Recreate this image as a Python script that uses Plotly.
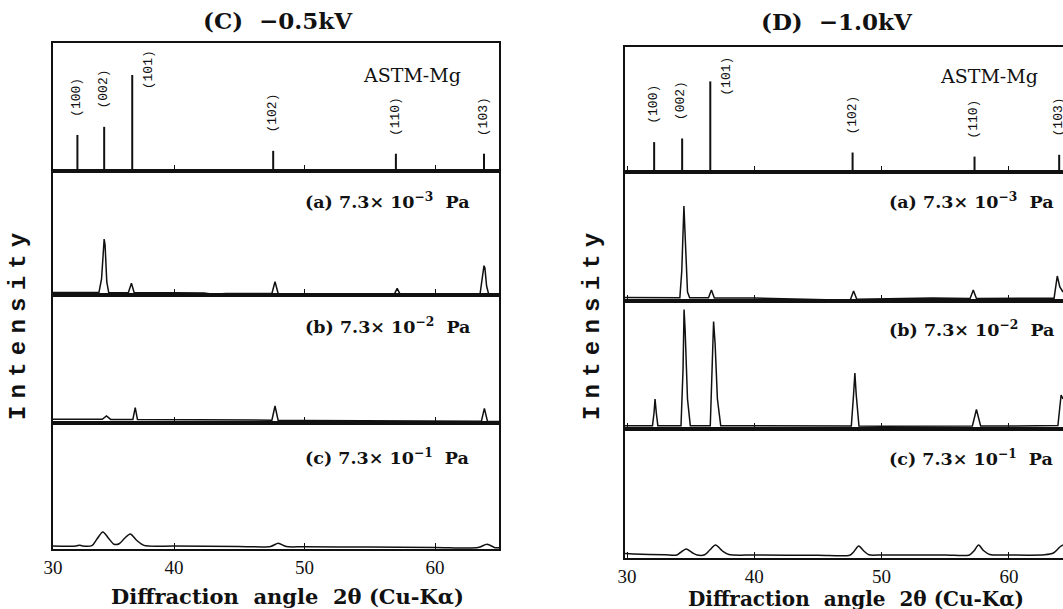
import plotly.graph_objects as go

W, H = 1063, 609

# ---------------- data ----------------
hkl = ["(100)", "(002)", "(101)", "(102)", "(110)", "(103)"]

astm_pos_C = [32.6, 34.65, 36.8, 47.6, 57.0, 63.75]
astm_int_C = [37.5, 46.0, 100.0, 21.0, 18.0, 18.0]
astm_pos_D = [32.13, 34.33, 36.54, 47.72, 57.3, 63.95]
astm_int_D = [33.0, 37.0, 100.0, 21.5, 17.0, 19.0]

panel_titles = ["(C)  \u22120.5kV", "(D)  \u22121.0kV"]
sample_labels = ["(a) 7.3\u00d7 10<sup>\u22123</sup>  Pa",
                 "(b) 7.3\u00d7 10<sup>\u22122</sup>  Pa",
                 "(c) 7.3\u00d7 10<sup>\u22121</sup>  Pa"]
astm_label = "ASTM-Mg"
x_title = "Diffraction  angle  2\u03b8 (Cu-K\u03b1)"
y_title = "Intensity"
x_tick_labels = ["30", "40", "50", "60"]
x_tick_vals = [30, 40, 50, 60]

C_a_x = [30.73, 33.5, 34.25, 34.45, 34.6, 34.65, 34.72, 34.85, 35.0, 36.5, 36.74, 36.95,
         40.0, 42.3, 43.0, 44.0, 47.5, 47.74, 47.98, 50.0, 56.9, 57.1, 57.3,
         63.45, 63.6, 63.75, 63.82, 63.95, 64.1, 64.9]
C_a_y = [2.6, 2.5, 2.5, 16, 52, 56, 50, 13, 2.4, 2.3, 11.7, 2.3,
         2.3, 2.0, 0.8, 1.6, 1.6, 13.3, 1.6, 1.6, 1.3, 6.7, 1.3,
         1.2, 14, 29.3, 27, 9, 1.2, 1.0]

C_b_x = [30.73, 34.5, 34.83, 35.15, 36.85, 37.03, 37.2, 40.0, 43.0, 47.5, 47.74, 47.98,
         50.0, 55.0, 60.0, 63.55, 63.78, 64.02, 64.9]
C_b_y = [3.8, 3.7, 7.0, 3.6, 3.5, 15.3, 3.5, 3.3, 2.8, 2.8, 17.0, 2.6,
         2.5, 2.2, 2.0, 1.8, 14.7, 1.6, 1.4]

C_c_x = [30.73, 32.5, 32.75, 33.0, 33.7, 34.1, 34.55, 35.0, 35.4, 35.8, 36.2, 36.65, 37.15,
         37.7, 40.0, 45.0, 47.4, 47.99, 48.6, 50.0, 55.0, 60.0, 63.3, 63.98, 64.6, 64.9]
C_c_y = [3.0, 3.0, 3.8, 3.0, 3.3, 10.0, 17.0, 10.5, 4.8, 5.2, 10.5, 15.0, 8.5,
         3.6, 3.0, 2.6, 2.5, 5.7, 2.4, 2.3, 1.9, 1.6, 1.4, 4.7, 1.3, 1.2]

D_a_x = [29.84, 33.0, 34.15, 34.3, 34.42, 34.47, 34.55, 34.75, 34.92, 36.4, 36.63, 36.86,
         40.0, 44.0, 45.5, 46.5, 47.55, 47.8, 48.05, 50.0, 54.0, 56.95, 57.2, 57.45,
         60.0, 63.55, 63.8, 64.0, 64.25]
D_a_y = [3.4, 3.3, 3.3, 30, 92, 95, 70, 9, 3.3, 3.2, 11, 3.1,
         3.0, 1.8, 0.6, 1.0, 1.5, 10, 1.8, 2.2, 3.0, 2.6, 11, 2.6,
         2.6, 2.8, 25, 14, 9]

D_b_x = [29.84, 32.0, 32.12, 32.2, 32.3, 32.42, 34.24, 34.4, 34.48, 34.56, 34.75, 34.97,
         36.54, 36.7, 36.8, 36.92, 37.1, 37.36, 40.0, 44.0, 47.62, 47.8, 47.9, 48.0, 48.22,
         50.0, 54.0, 57.13, 57.45, 57.78, 60.0, 63.85, 64.1, 64.25]
D_b_y = [3.3, 3.3, 16, 30, 16, 3.3, 3.3, 60, 119.5, 100, 30, 3.3,
         3.3, 60, 107.5, 85, 30, 3.3, 3.3, 3.0, 3.0, 35, 56, 35, 3.0,
         2.8, 3.0, 3.0, 19.5, 3.0, 3.0, 3.5, 34, 30]

D_c_x = [29.84, 30.5, 33.0, 33.9, 34.2, 34.64, 35.1, 35.5, 36.1, 36.5, 36.95, 37.5, 38.0,
         40.0, 45.0, 47.5, 47.8, 48.2, 48.6, 49.0, 50.0, 55.0, 56.9, 57.25, 57.62, 58.0,
         58.5, 60.0, 62.8, 63.5, 64.0, 64.25]
D_c_y = [4.5, 4.0, 3.2, 3.0, 5.5, 9.0, 5.5, 3.0, 3.2, 8.0, 13.0, 7.0, 3.5,
         3.0, 2.8, 2.8, 6.0, 12.0, 7.0, 3.2, 3.0, 3.0, 3.0, 7.0, 13.0, 7.5,
         3.5, 3.0, 3.2, 5.0, 11.0, 13.0]

# ---------------- layout geometry (pixels) ----------------
def pxp(px):
    return px / W

def pyp(py):
    return 1 - py / H

def spaced(word, gap_px):
    # letter-spaced text: small-sized spaces between the letters
    sp = '<span style="font-size:%dpx"> </span>' % gap_px
    return sp.join(word)

panels = [
    dict(xdom=[53, 499], rows=[43, 171, 295, 423, 549], xr=[30.73, 64.9], astm_scale=0.96,
         pos=astm_pos_C, inten=astm_int_C, spectra=[(C_a_x, C_a_y, "linear"), (C_b_x, C_b_y, "linear"),
                                                     (C_c_x, C_c_y, "spline")],
         title=panel_titles[0], title_x=278, title_y=21, ytitle_x=18, xtitle_x=287,
         mirror_right=True, lab_x=49.9, astm_x=54.3, astm_y=75, lab_y=[200, 325, 456],
         xtitle_y=596, xtitle_size=21),
    dict(xdom=[625, 1063], rows=[47, 172, 301, 429, 558], xr=[29.84, 64.25], astm_scale=0.906,
         pos=astm_pos_D, inten=astm_int_D, spectra=[(D_a_x, D_a_y, "linear"), (D_b_x, D_b_y, "linear"),
                                                     (D_c_x, D_c_y, "spline")],
         title=panel_titles[1], title_x=837, title_y=22, ytitle_x=592, xtitle_x=856,
         mirror_right=False, lab_x=50.4, astm_x=54.4, astm_y=76, lab_y=[200, 328, 457],
         xtitle_y=598.5, xtitle_size=20),
]

INK = "#111111"
fig = go.Figure()
annotations = []
layout_axes = {}
k = 0
for pi, P in enumerate(panels):
    rows = P["rows"]
    for r in range(4):
        k += 1
        xa = "x" if k == 1 else f"x{k}"
        ya = "y" if k == 1 else f"y{k}"
        xkey = "xaxis" if k == 1 else f"xaxis{k}"
        ykey = "yaxis" if k == 1 else f"yaxis{k}"
        hpx = rows[r + 1] - rows[r]
        bottom = (r == 3)
        if pi == 0 and bottom:
            tv = [P["xr"][0]] + x_tick_vals[1:]
        else:
            tv = x_tick_vals
        ax = dict(
            domain=[pxp(P["xdom"][0]), pxp(P["xdom"][1])], range=P["xr"], anchor=ya,
            showline=True, mirror=True, linecolor=INK, linewidth=1.6,
            ticks="inside", ticklen=6, tickwidth=1.3, tickcolor=INK,
            tickvals=tv, showticklabels=bottom, showgrid=False, zeroline=False,
            automargin=False,
            tickfont=dict(family="Liberation Serif", size=19, color=INK),
        )
        if bottom:
            ax["ticktext"] = x_tick_labels
            ax["ticklabelstandoff"] = 0
        layout_axes[xkey] = ax
        if r == 0:
            yr = [0, hpx / P["astm_scale"]]
        else:
            yr = [0, hpx]
        layout_axes[ykey] = dict(
            domain=[pyp(rows[r + 1]), pyp(rows[r])], range=yr, anchor=xa,
            showline=True, mirror=P["mirror_right"], linecolor=INK, linewidth=1.6,
            ticks="", showticklabels=False, showgrid=False, zeroline=False, automargin=False,
        )
        if r == 0:
            sx, sy = [], []
            for p, v in zip(P["pos"], P["inten"]):
                sx += [p, p, None]
                sy += [0, v, None]
            fig.add_trace(go.Scatter(x=sx, y=sy, mode="lines", xaxis=xa, yaxis=ya,
                                     line=dict(color=INK, width=2), hoverinfo="skip"))
            imax = max(P["inten"])
            for lab, p, v in zip(hkl, P["pos"], P["inten"]):
                if v == imax:
                    annotations.append(dict(x=p, y=v, xref=xa, yref=ya, text=lab, showarrow=False,
                                            textangle=-90, xanchor="center", yanchor="middle",
                                            xshift=16, yshift=5,
                                            font=dict(family="Liberation Mono", size=13, color=INK)))
                else:
                    annotations.append(dict(x=p, y=v, xref=xa, yref=ya, text=lab, showarrow=False,
                                            textangle=-90, xanchor="center", yanchor="bottom",
                                            xshift=-1, yshift=16,
                                            font=dict(family="Liberation Mono", size=13, color=INK)))
            annotations.append(dict(x=P["astm_x"], y=pyp(P["astm_y"]), xref=xa, yref="paper",
                                    text=astm_label, showarrow=False, xanchor="left", yanchor="middle",
                                    font=dict(family="DejaVu Serif", size=19, color=INK)))
        else:
            sxv, syv, shape = P["spectra"][r - 1]
            fig.add_trace(go.Scatter(x=sxv, y=syv, mode="lines", xaxis=xa, yaxis=ya,
                                     line=dict(color=INK, width=1.5, shape=shape, smoothing=0.8),
                                     hoverinfo="skip"))
            annotations.append(dict(x=P["lab_x"], y=pyp(P["lab_y"][r - 1]), xref=xa, yref="paper",
                                    text="<b>" + sample_labels[r - 1] + "</b>", showarrow=False,
                                    xanchor="left", yanchor="middle",
                                    font=dict(family="DejaVu Serif", size=17.5, color=INK)))
    # panel title, axis titles
    annotations.append(dict(x=pxp(P["title_x"]), y=pyp(P["title_y"]), xref="paper", yref="paper",
                            text="<b>" + P["title"] + "</b>", showarrow=False,
                            xanchor="center", yanchor="middle",
                            font=dict(family="DejaVu Serif", size=23, color=INK)))
    annotations.append(dict(x=pxp(P["xtitle_x"]), y=pyp(P["xtitle_y"]), xref="paper", yref="paper",
                            text="<b>" + x_title + "</b>", showarrow=False,
                            xanchor="center", yanchor="middle",
                            font=dict(family="DejaVu Serif", size=P["xtitle_size"], color=INK)))
    annotations.append(dict(x=pxp(P["ytitle_x"]), y=pyp(327), xref="paper", yref="paper",
                            text="<b>" + spaced(y_title, 12) + "</b>", showarrow=False, textangle=-90,
                            xanchor="center", yanchor="middle",
                            font=dict(family="Liberation Mono", size=24, color=INK)))

fig.update_layout(width=W, height=H, margin=dict(l=0, r=0, t=0, b=0, autoexpand=False),
                  paper_bgcolor="white", plot_bgcolor="white", showlegend=False,
                  annotations=annotations, **layout_axes)

fig.write_html("out.html", config={"displayModeBar": False},
               post_script="document.body.style.margin='0';document.body.style.overflow='hidden';")
